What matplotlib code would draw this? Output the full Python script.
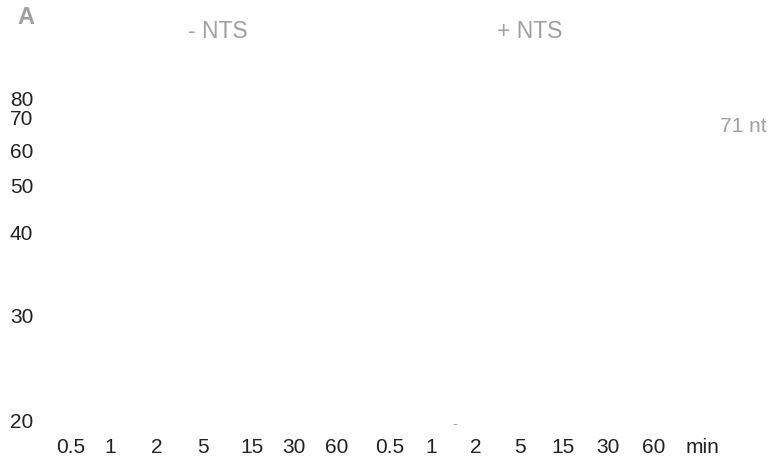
import matplotlib
matplotlib.use("Agg")
import matplotlib.pyplot as plt

plt.rcParams['font.family'] = ['Liberation Sans', 'DejaVu Sans']

# Data
time_labels = ["0.5", "1", "2", "5", "15", "30", "60"]
panel_titles = ["- NTS", "+ NTS"]
marker_nt = [80, 70, 60, 50, 40, 30, 20]
# migration position (gel coordinates, top = 0)
marker_migration = [100, 119, 152, 187, 234, 317, 422]
lane_pos_minus = [71, 110, 157, 203, 252, 294, 337]
lane_pos_plus = [390, 431, 476, 520, 563, 608, 654]
title_pos = [218, 530]
substrate_label = "71 nt"
substrate_migration = 126

W, H = 773, 461
fig = plt.figure(figsize=(W / 100, H / 100), dpi=100)
ax = fig.add_axes([0, 0, 1, 1])
ax.set_xlim(0, W)
ax.set_ylim(H, 0)
ax.axis("off")

dark = "#222222"
gray = "#a0a0a0"
fs = 15

ax.text(26, 18, "A", fontsize=17, color=gray, fontweight="bold", ha="center", va="center")
for t, x in zip(panel_titles, title_pos):
    ax.text(x, 32, t, fontsize=16.5, color=gray, ha="center", va="center")

for nt, y in zip(marker_nt, marker_migration):
    ax.text(10, y, str(nt), fontsize=fs, color=dark, ha="left", va="center")

for lanes in (lane_pos_minus, lane_pos_plus):
    for lab, x in zip(time_labels, lanes):
        ax.text(x, 447, lab, fontsize=fs, color=dark, ha="center", va="center")
ax.text(686, 447, "min", fontsize=fs, color=dark, ha="left", va="center")

ax.text(767, substrate_migration, substrate_label, fontsize=fs, color=gray, ha="right", va="center")
ax.text(455, 424, "-", fontsize=11, color=gray, ha="center", va="center")

fig.savefig("out.png", dpi=100)
